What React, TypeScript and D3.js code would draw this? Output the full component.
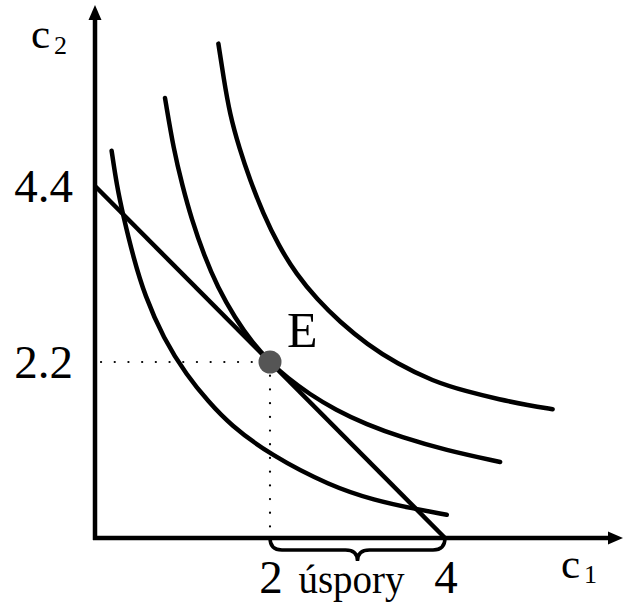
import * as d3 from 'd3';

// values (c1, c2)
const innerCurve: [number, number][] = [
  [0.19, 4.84], [0.25, 4.4], [0.32, 4.04], [0.44, 3.5], [0.57, 3.03], [0.78, 2.5],
  [1.05, 2.03], [1.3, 1.7], [1.54, 1.42], [2.0, 1.04], [2.69, 0.65], [3.2, 0.47],
  [3.63, 0.37], [4.02, 0.29],
];
const middleCurve: [number, number][] = [
  [0.8, 5.5], [0.9, 4.85], [1.0, 4.4], [1.1, 4.0], [1.25, 3.52], [1.4, 3.14],
  [1.6, 2.75], [1.8, 2.44], [2.0, 2.2], [2.2, 2.0], [2.45, 1.8], [2.75, 1.6],
  [3.1, 1.42], [3.5, 1.26], [4.0, 1.1], [4.63, 0.95],
];
const outerCurve: [number, number][] = [
  [1.41, 6.18], [1.47, 5.75], [1.54, 5.3], [1.65, 4.87], [1.77, 4.48], [1.92, 4.06],
  [2.1, 3.65], [2.3, 3.3], [2.54, 2.98], [2.8, 2.7], [3.11, 2.42], [3.45, 2.18],
  [3.86, 1.96], [4.25, 1.83], [4.63, 1.73], [4.95, 1.66], [5.23, 1.61],
];
const budgetLine: [number, number][] = [[0, 4.4], [4, 0]];
const optimum: [number, number] = [2, 2.2];
const yTicks = [4.4, 2.2];
const xTicks = [2, 4];
const braceRange: [number, number] = [2, 4];

const W = 624;
const H = 603;
const font = "'Liberation Serif', 'Times New Roman', serif";

export default function App() {
  const x = d3.scaleLinear().domain([0, 6]).range([95, 620]);
  const y = d3.scaleLinear().domain([0, 6.6]).range([538, 10]);

  const line = d3
    .line<[number, number]>()
    .x((d) => x(d[0]))
    .y((d) => y(d[1]))
    .curve(d3.curveBasis);
  const straight = d3
    .line<[number, number]>()
    .x((d) => x(d[0]))
    .y((d) => y(d[1]));

  const x0 = x(0);
  const y0 = y(0);
  const ex = x(optimum[0]);
  const ey = y(optimum[1]);

  // curly brace under the axis
  const b1 = x(braceRange[0]);
  const b2 = x(braceRange[1]);
  const bm = (b1 + b2) / 2;
  const by = y0 + 12;
  const tip = y0 + 23;
  const r = 12;
  const brace =
    `M${b1},${y0} Q${b1},${by} ${b1 + r},${by} L${bm - r},${by} ` +
    `Q${bm},${by} ${bm},${tip} Q${bm},${by} ${bm + r},${by} ` +
    `L${b2 - r},${by} Q${b2},${by} ${b2},${y0}`;

  return (
    <svg
      width={W}
      height={H}
      style={{ position: 'absolute', left: 0, top: 0, background: '#fff' }}
    >
      {/* dotted guides */}
      <line x1={x0 + 6} x2={ex} y1={ey} y2={ey} stroke="#000" strokeWidth={2.2}
        strokeDasharray="0.1 13.6" strokeLinecap="round" />
      <line x1={ex} x2={ex} y1={ey} y2={y0} stroke="#000" strokeWidth={2.2}
        strokeDasharray="0.1 13.6" strokeLinecap="round" />

      {/* axes */}
      <line x1={x0} x2={x0} y1={y0 + 2} y2={16} stroke="#000" strokeWidth={4.5} />
      <path d={`M${x0},5 L${x0 - 6.5},20 L${x0 + 6.5},20 Z`} fill="#000" />
      <line x1={x0 - 2} x2={610} y1={y0} y2={y0} stroke="#000" strokeWidth={4.5} />
      <path d={`M623,${y0} L608,${y0 - 6.5} L608,${y0 + 6.5} Z`} fill="#000" />

      {/* budget line and indifference curves */}
      <path d={straight(budgetLine) ?? ''} fill="none" stroke="#000" strokeWidth={4.5} />
      {[innerCurve, middleCurve, outerCurve].map((c, i) => (
        <path key={i} d={line(c) ?? ''} fill="none" stroke="#000" strokeWidth={4.5}
          strokeLinecap="round" />
      ))}

      <path d={brace} fill="none" stroke="#000" strokeWidth={3.5} />

      <circle cx={ex} cy={ey} r={11.5} fill="#555555" />

      <g fontFamily={font} fill="#000">
        <text x={ex + 17} y={ey - 15} fontSize={50}>E</text>
        {yTicks.map((t) => (
          <text key={t} x={73} y={y(t) + 16} fontSize={47} textAnchor="end">
            {String(t)}
          </text>
        ))}
        {xTicks.map((t) => (
          <text key={t} x={x(t) + 1} y={593} fontSize={47} textAnchor="middle">
            {String(t)}
          </text>
        ))}
        <text x={bm - 6} y={593} fontSize={39} textAnchor="middle">úspory</text>
        <text x={561} y={578} fontSize={43}>c</text>
        <text x={584} y={583} fontSize={26}>1</text>
        <text x={31} y={48} fontSize={43}>c</text>
        <text x={54} y={54} fontSize={26}>2</text>
      </g>
    </svg>
  );
}
